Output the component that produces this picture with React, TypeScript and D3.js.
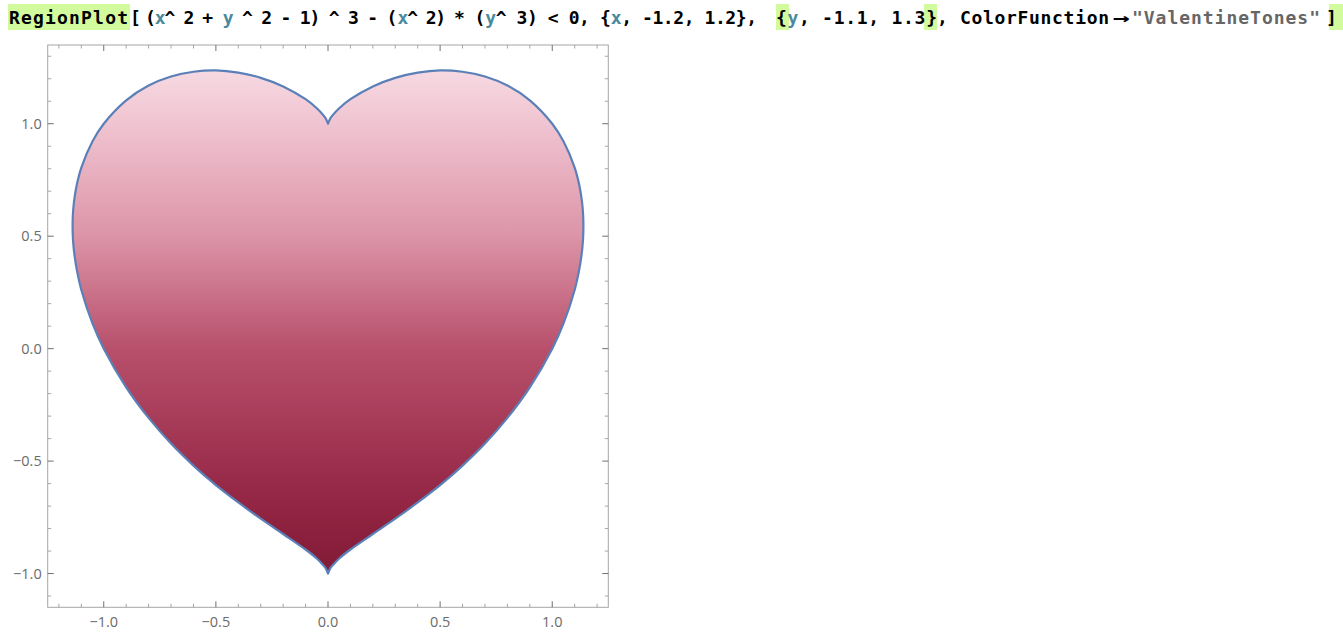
import React from "react";
import * as d3 from "d3";

// boundary of the region, right half (x >= 0)
const heartX = [0, 0.01, 0.02, 0.05, 0.1, 0.2, 0.3, 0.4, 0.5, 0.6, 0.7, 0.8, 0.9, 1.0, 1.05, 1.1, 1.12, 1.13, 1.135, 1.138, 1.139];
const heartUpperY = [1.0, 1.023, 1.037, 1.069, 1.109, 1.166, 1.204, 1.227, 1.237, 1.231, 1.21, 1.17, 1.104, 1.0, 0.922, 0.805, 0.73, 0.674, 0.632, 0.59, 0.545];
const heartLowerY = [-1.0, -0.977, -0.964, -0.933, -0.893, -0.824, -0.756, -0.684, -0.607, -0.52, -0.422, -0.308, -0.172, 0.0, 0.111, 0.261, 0.349, 0.411, 0.456, 0.5, 0.545];

// ValentineTones, by y value
const colorStopY = [-1.1, -0.6, 0, 0.5, 1.0, 1.3];
const colorStopColor = ["#7c1530", "#972a48", "#b8506b", "#dc94a8", "#f0c4d1", "#f8dfe7"];

const xTickValues = [-1, -0.5, 0, 0.5, 1];
const yTickValues = [-1, -0.5, 0, 0.5, 1];
const xTickLabels = ["\u22121.0", "\u22120.5", "0.0", "0.5", "1.0"];
const yTickLabels = ["\u22121.0", "\u22120.5", "0.0", "0.5", "1.0"];

const W = 1343;
const H = 642;
const frame = { left: 47.7, right: 608.3, top: 45, bottom: 607.3 };

const BLK = "#000";
const TEAL = "#4a8a9c";
const GREY = "#666";
const HL = "#d2fb9e";

// input line groups: text, left, right, colour, variables coloured
const codeGroups: [string, number, number, string, boolean][] = [
  ["RegionPlot", 9, 128, BLK, false],
  ["[", 130, 140, BLK, false],
  ["(x^ 2 + y ^ 2 - 1) ^ 3 - (x^ 2)", 145, 446, BLK, true],
  ["* (y^ 3) < 0, {x, -1.2, 1.2},", 454, 757, BLK, true],
  ["{y, -1.1, 1.3}", 776, 937, BLK, true],
  [", ColorFunction", 937, 1109, BLK, false],
  ["\u2192", 1113, 1130, BLK, false],
  ["\"ValentineTones\"", 1132, 1320, GREY, false],
  ["]", 1326, 1338, BLK, false],
];
// bracket / head highlights (left, right)
const codeHighlights: [number, number][] = [
  [8, 130],
  [776, 789],
  [924, 937],
  [1329, 1343],
];

// split a group into runs of one colour, placed by character index
function codeRuns() {
  const runs: { t: string; x: number; w: number; c: string }[] = [];
  codeGroups.forEach(([text, x0, x1, col, vars]) => {
    const adv = (x1 - x0) / text.length;
    let i = 0;
    while (i < text.length) {
      const isVar = vars && /[xy]/.test(text[i]);
      let j = i + 1;
      if (!isVar) while (j < text.length && !(vars && /[xy]/.test(text[j]))) j++;
      runs.push({ t: text.slice(i, j), x: x0 + i * adv, w: (j - i) * adv, c: isVar ? TEAL : col });
      i = j;
    }
  });
  return runs;
}

export default function App() {
  const x = d3.scaleLinear().domain([-1.25, 1.25]).range([frame.left, frame.right]);
  const y = d3.scaleLinear().domain([-1.15, 1.35]).range([frame.bottom, frame.top]);

  const upper = heartX.map((v, i) => [v, heartUpperY[i]] as [number, number]);
  const lower = heartX.map((v, i) => [v, heartLowerY[i]] as [number, number]);
  const right = [...upper, ...lower.slice(0, -1).reverse()];
  const mirror = (p: [number, number]) => [-p[0], p[1]] as [number, number];
  const left = [...lower.map(mirror), ...upper.slice(0, -1).reverse().map(mirror)];

  const line = d3
    .line<[number, number]>()
    .x((d) => x(d[0]))
    .y((d) => y(d[1]))
    .curve(d3.curveCatmullRom.alpha(0.5));
  // two halves so both cusps stay sharp
  const heartPath = line(right)! + line(left)!.replace(/^M/, "L") + "Z";

  const yLo = colorStopY[0];
  const yHi = colorStopY[colorStopY.length - 1];

  const minorX = x.ticks(25).filter((t) => !xTickValues.some((m) => Math.abs(m - t) < 1e-9));
  const minorY = y.ticks(25).filter((t) => !yTickValues.some((m) => Math.abs(m - t) < 1e-9));

  const tickFont = "'Open Sans', 'DejaVu Sans', sans-serif";
  const runs = codeRuns();

  return (
    <div style={{ position: "fixed", left: 0, top: 0 }}>
      <svg width={W} height={H} style={{ display: "block", background: "#fff" }}>
        <defs>
          <linearGradient id="valentine" gradientUnits="userSpaceOnUse" x1={0} x2={0} y1={y(yLo)} y2={y(yHi)}>
            {colorStopY.map((s, i) => (
              <stop key={i} offset={(s - yLo) / (yHi - yLo)} stopColor={colorStopColor[i]} />
            ))}
          </linearGradient>
        </defs>

        {/* input line */}
        {codeHighlights.map(([a, b], i) => (
          <rect key={"h" + i} x={a} y={4} width={b - a} height={26} fill={HL} />
        ))}
        <g fontFamily="'DejaVu Sans Mono', monospace" fontWeight="bold" fontSize={18} style={{ whiteSpace: "pre" }}>
          {runs.map((r, i) =>
            r.t.trim() === "" ? null : r.t === "\u2192" ? (
              <text key={i} x={r.x} y={24} fill={r.c} textLength={r.w} lengthAdjust="spacingAndGlyphs">
                {r.t}
              </text>
            ) : (
              <text key={i} x={r.x} y={24} fill={r.c} textLength={r.w} lengthAdjust="spacing" xmlSpace="preserve">
                {r.t}
              </text>
            )
          )}
        </g>

        {/* region */}
        <path d={heartPath} fill="url(#valentine)" stroke="#5b80b8" strokeWidth={2.2} strokeLinejoin="round" />

        {/* frame */}
        <rect
          x={frame.left}
          y={frame.top}
          width={frame.right - frame.left}
          height={frame.bottom - frame.top}
          fill="none"
          stroke="#a6a6a6"
          strokeWidth={1}
        />

        {/* ticks */}
        <g stroke="#a6a6a6" strokeWidth={1}>
          {minorX.map((t) => (
            <g key={"mx" + t}>
              <line x1={x(t)} x2={x(t)} y1={frame.bottom} y2={frame.bottom - 3.5} />
              <line x1={x(t)} x2={x(t)} y1={frame.top} y2={frame.top + 3.5} />
            </g>
          ))}
          {minorY.map((t) => (
            <g key={"my" + t}>
              <line x1={frame.left} x2={frame.left + 3.5} y1={y(t)} y2={y(t)} />
              <line x1={frame.right} x2={frame.right - 3.5} y1={y(t)} y2={y(t)} />
            </g>
          ))}
        </g>
        <g stroke="#707070" strokeWidth={1}>
          {xTickValues.map((t) => (
            <g key={"Mx" + t}>
              <line x1={x(t)} x2={x(t)} y1={frame.bottom} y2={frame.bottom - 6} />
              <line x1={x(t)} x2={x(t)} y1={frame.top} y2={frame.top + 6} />
            </g>
          ))}
          {yTickValues.map((t) => (
            <g key={"My" + t}>
              <line x1={frame.left} x2={frame.left + 6} y1={y(t)} y2={y(t)} />
              <line x1={frame.right} x2={frame.right - 6} y1={y(t)} y2={y(t)} />
            </g>
          ))}
        </g>

        {/* tick labels */}
        <g fontFamily={tickFont} fontSize={14.5} fill="#6b6b6b">
          {xTickValues.map((t, i) => (
            <text key={"lx" + t} x={x(t)} y={frame.bottom + 20} textAnchor="middle">
              {xTickLabels[i]}
            </text>
          ))}
          {yTickValues.map((t, i) => (
            <text key={"ly" + t} x={frame.left - 6} y={y(t) + 5} textAnchor="end">
              {yTickLabels[i]}
            </text>
          ))}
        </g>
      </svg>
    </div>
  );
}
